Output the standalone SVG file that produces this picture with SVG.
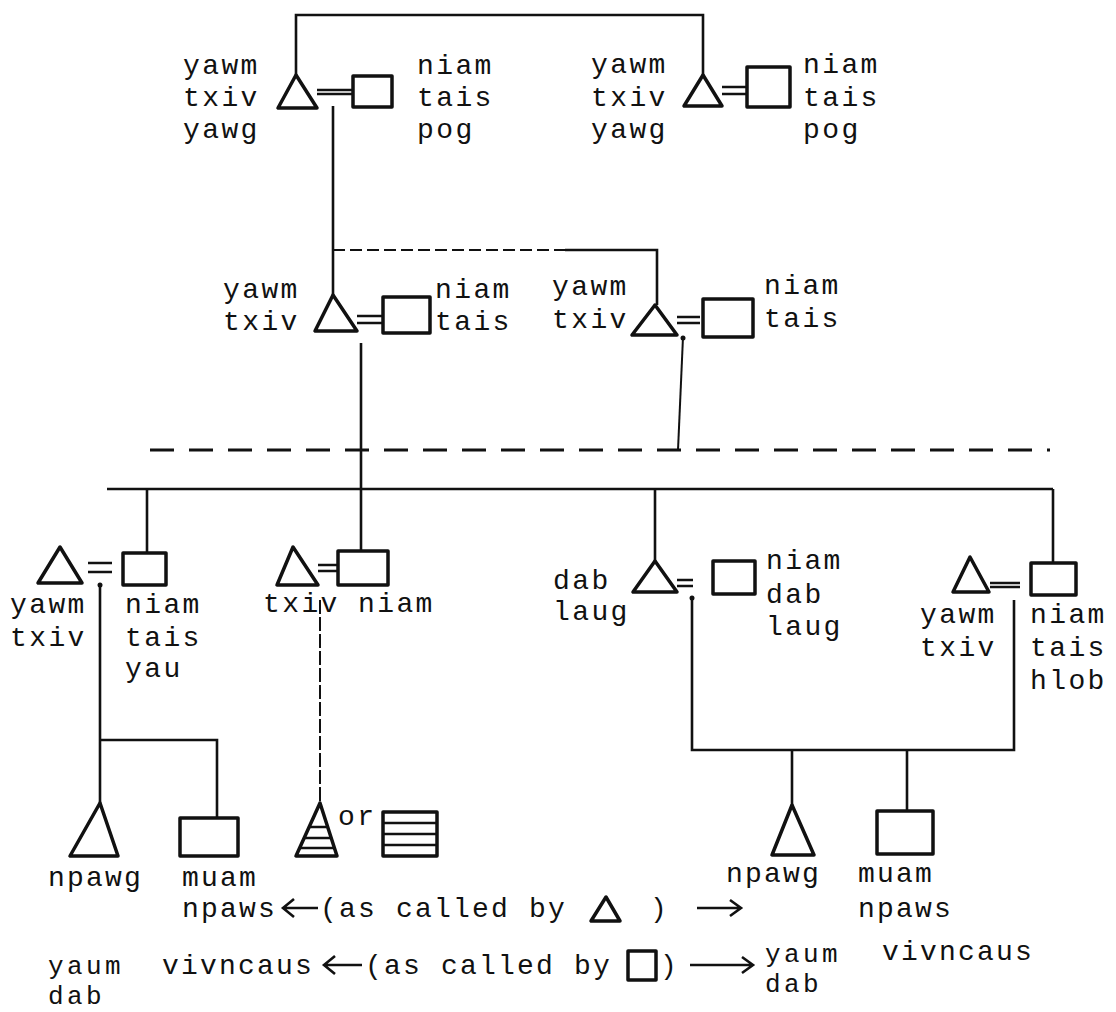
<svg xmlns="http://www.w3.org/2000/svg" width="1116" height="1012" viewBox="0 0 1116 1012">
<style>
.t{font-family:"Liberation Mono","DejaVu Sans Mono",monospace;font-size:28px;letter-spacing:2.4px;fill:#111}
.b{font-family:"Liberation Mono","DejaVu Sans Mono",monospace;font-size:28px;letter-spacing:2.2px;fill:#111}
.s{font-family:"Liberation Mono","DejaVu Sans Mono",monospace;font-size:26px;letter-spacing:3.4px;fill:#111}
.sh{fill:none;stroke:#111;stroke-width:3.5;stroke-linejoin:round}
.eq{stroke:#111;stroke-width:2.5;fill:none}
.ln{fill:none;stroke:#111;stroke-width:2.6}
.thin{fill:none;stroke:#111;stroke-width:2}
.dash{fill:none;stroke:#111;stroke-width:3;stroke-dasharray:24 15}
.hatch{stroke:#111;stroke-width:2.5}
</style>
<rect width="1116" height="1012" fill="#fff"/>

<g id="connectors">
  <path class="ln" d="M296,75 V15 H703 V75"/>
  <path class="ln" d="M333,106 V295"/>
  <path class="thin" d="M333,250 H565" stroke-dasharray="12 5"/>
  <path class="ln" d="M565,250 H657 V305"/>
  <path class="ln" d="M361,343 V551"/>
  <path class="thin" d="M683,337 L678,450"/>
  <circle cx="683" cy="338" r="2.5" fill="#111"/>
  <path class="dash" d="M150,450 H1050"/>
  <path class="ln" d="M107,489 H1053"/>
  <path class="ln" d="M147,489 V552"/>
  <path class="ln" d="M655,489 V561"/>
  <path class="ln" d="M1053,489 V563"/>
  <path class="ln" d="M100,584 V803 M100,740 H217 V818"/>
  <circle cx="100" cy="585" r="2.5" fill="#111"/>
  <path class="thin" d="M320,600 V803" stroke-dasharray="14 3"/>
  <path class="ln" d="M692,599 V750 H1014 V600"/>
  <circle cx="692" cy="598" r="2.5" fill="#111"/>
  <path class="ln" d="M792,750 V805 M907,750 V811"/>
</g>

<g id="gen1-left">
  <text class="t" x="183" y="74">yawm</text>
  <text class="t" x="183" y="106">txiv</text>
  <text class="t" x="183" y="138">yawg</text>
  <path class="sh" d="M296,75 L278,108 L317,108 Z"/>
  <path class="eq" d="M317,90 H353 M317,94 H353"/>
  <rect class="sh" x="353" y="76" width="39" height="31"/>
  <text class="t" x="417" y="74">niam</text>
  <text class="t" x="417" y="106">tais</text>
  <text class="t" x="417" y="138">pog</text>
</g>

<g id="gen1-right">
  <text class="t" x="591" y="73">yawm</text>
  <text class="t" x="591" y="106">txiv</text>
  <text class="t" x="591" y="138">yawg</text>
  <path class="sh" d="M703,75 L684,106 L722,106 Z"/>
  <path class="eq" d="M722,87 H747 M722,94 H747"/>
  <rect class="sh" x="747" y="67" width="43" height="40"/>
  <text class="t" x="803" y="73">niam</text>
  <text class="t" x="803" y="106">tais</text>
  <text class="t" x="803" y="138">pog</text>
</g>

<g id="gen2-left">
  <text class="t" x="223" y="298">yawm</text>
  <text class="t" x="223" y="330">txiv</text>
  <path class="sh" d="M333,295 L315,331 L357,331 Z"/>
  <path class="eq" d="M357,316 H383 M357,323 H383"/>
  <rect class="sh" x="383" y="297" width="47" height="36"/>
  <text class="t" x="435" y="298">niam</text>
  <text class="t" x="435" y="330">tais</text>
</g>

<g id="gen2-right">
  <text class="t" x="552" y="295">yawm</text>
  <text class="t" x="552" y="328">txiv</text>
  <path class="sh" d="M655,305 L632,335 L677,335 Z"/>
  <path class="eq" d="M677,317 H700 M677,323 H700"/>
  <rect class="sh" x="703" y="299" width="50" height="38"/>
  <text class="t" x="764" y="294">niam</text>
  <text class="t" x="764" y="327">tais</text>
</g>

<g id="gen3-a">
  <path class="sh" d="M60,547 L38,583 L82,583 Z"/>
  <path class="eq" d="M88,563 H112 M88,572 H112"/>
  <rect class="sh" x="123" y="553" width="43" height="32"/>
  <text class="t" x="10" y="613">yawm</text>
  <text class="t" x="10" y="646">txiv</text>
  <text class="t" x="125" y="613">niam</text>
  <text class="t" x="125" y="646">tais</text>
  <text class="t" x="125" y="677">yau</text>
</g>

<g id="gen3-b">
  <path class="sh" d="M293,547 L277,585 L318,585 Z"/>
  <path class="eq" d="M318,565 H338 M318,571 H338"/>
  <rect class="sh" x="338" y="551" width="50" height="34"/>
  <text class="t" x="263" y="612">txiv</text>
  <text class="t" x="358" y="612">niam</text>
</g>

<g id="gen3-c">
  <text class="t" x="553" y="589">dab</text>
  <text class="t" x="553" y="620">laug</text>
  <path class="sh" d="M655,561 L633,592 L677,592 Z"/>
  <path class="eq" d="M677,580 H693 M677,586 H693"/>
  <rect class="sh" x="713" y="561" width="42" height="33"/>
  <text class="t" x="766" y="569">niam</text>
  <text class="t" x="766" y="603">dab</text>
  <text class="t" x="766" y="635">laug</text>
</g>

<g id="gen3-d">
  <path class="sh" d="M970,557 L953,592 L989,592 Z"/>
  <path class="eq" d="M990,583 H1020 M990,587 H1020" stroke-width="3"/>
  <rect class="sh" x="1031" y="563" width="45" height="32"/>
  <text class="t" x="920" y="623">yawm</text>
  <text class="t" x="920" y="656">txiv</text>
  <text class="t" x="1030" y="623">niam</text>
  <text class="t" x="1030" y="656">tais</text>
  <text class="t" x="1030" y="689">hlob</text>
</g>

<g id="gen4-left">
  <path class="sh" d="M100,803 L70,856 L118,856 Z"/>
  <rect class="sh" x="180" y="818" width="58" height="38"/>
  <text class="b" x="48" y="886">npawg</text>
  <text class="b" x="182" y="886">muam</text>
</g>

<g id="gen4-ego">
  <path class="sh" d="M320,803 L296,856 L337,856 Z"/>
  <path class="hatch" d="M309,827 H327 M304,838 H331 M300,848 H335"/>
  <text class="t" x="338" y="825" font-size="27">or</text>
  <rect class="sh" x="383" y="812" width="54" height="44"/>
  <path class="hatch" d="M383,823 H437 M383,834 H437 M383,845 H437"/>
</g>

<g id="gen4-right">
  <path class="sh" d="M792,805 L772,855 L814,855 Z"/>
  <rect class="sh" x="877" y="811" width="56" height="43"/>
  <text class="b" x="726" y="882">npawg</text>
  <text class="b" x="858" y="882">muam</text>
  <text class="b" x="858" y="917">npaws</text>
</g>

<g id="legend">
  <text class="b" x="182" y="917">npaws</text>
  <path class="ln" d="M318,908 H284 M294,899 L283,908 L294,917"/>
  <text class="b" x="320" y="917">(as called by</text>
  <path class="sh" d="M606,897 L591,921 L620,921 Z" stroke-width="4.5"/>
  <text class="b" x="650" y="917">)</text>
  <path class="ln" d="M697,908 H740 M730,900 L741,908 L730,916"/>

  <text class="s" x="48" y="974">yaum</text>
  <text class="s" x="48" y="1004">dab</text>
  <text class="b" x="162" y="974">vivncaus</text>
  <path class="ln" d="M362,965 H325 M335,956 L324,965 L335,974"/>
  <text class="b" x="365" y="974">(as called by</text>
  <rect class="sh" x="628" y="951" width="28" height="29"/>
  <text class="b" x="660" y="974">)</text>
  <path class="ln" d="M690,965 H752 M742,957 L753,965 L742,973"/>
  <text class="s" x="765" y="962">yaum</text>
  <text class="s" x="765" y="992">dab</text>
  <text class="b" x="882" y="960">vivncaus</text>
</g>
</svg>
